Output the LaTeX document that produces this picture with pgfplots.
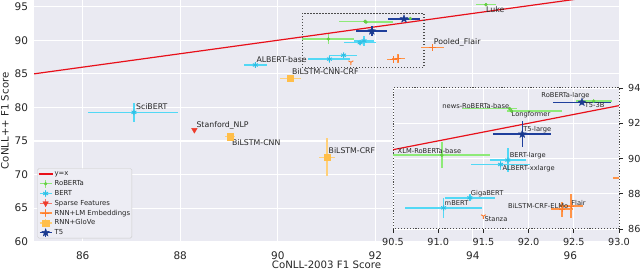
\documentclass[border=0pt]{standalone}
\usepackage{fontspec}
\setmainfont{DejaVu Sans}
\usepackage{pgfplots}
\pgfplotsset{compat=1.18}
\usepackage{pgfplotstable}
\usetikzlibrary{plotmarks}

\definecolor{bg}{HTML}{EAEAF2}
\definecolor{txt}{HTML}{262626}
\definecolor{cline}{HTML}{E8101A}
\definecolor{cRoM}{HTML}{66CC44}
\definecolor{cRoB}{HTML}{8EEA78}
\definecolor{cBeM}{HTML}{2EC0E6}
\definecolor{cBeB}{HTML}{52D8F5}
\definecolor{cSpM}{HTML}{EE3B2B}
\definecolor{cSpB}{HTML}{F47A6E}
\definecolor{cLmM}{HTML}{FF7A2A}
\definecolor{cLmB}{HTML}{FF9448}
\definecolor{cGlM}{HTML}{FFBE4A}
\definecolor{cGlB}{HTML}{FFD07A}
\definecolor{cTM}{HTML}{1A3A8F}
\definecolor{cTB}{HTML}{1F3F9C}

\pgfdeclareplotmark{fstar}{%
  \pgfpathmoveto{\pgfqpointpolar{90}{\pgfplotmarksize}}%
  \pgfpathlineto{\pgfqpointpolar{126}{0.42\pgfplotmarksize}}%
  \pgfpathlineto{\pgfqpointpolar{162}{\pgfplotmarksize}}%
  \pgfpathlineto{\pgfqpointpolar{198}{0.42\pgfplotmarksize}}%
  \pgfpathlineto{\pgfqpointpolar{234}{\pgfplotmarksize}}%
  \pgfpathlineto{\pgfqpointpolar{270}{0.42\pgfplotmarksize}}%
  \pgfpathlineto{\pgfqpointpolar{306}{\pgfplotmarksize}}%
  \pgfpathlineto{\pgfqpointpolar{342}{0.42\pgfplotmarksize}}%
  \pgfpathlineto{\pgfqpointpolar{18}{\pgfplotmarksize}}%
  \pgfpathlineto{\pgfqpointpolar{54}{0.42\pgfplotmarksize}}%
  \pgfpathclose
  \pgfusepathqfillstroke}

\tikzset{
  lblm/.style={font=\fontsize{7.8bp}{9bp}\selectfont, text=txt, inner sep=0pt, anchor=west},
  lbli/.style={font=\fontsize{6.7bp}{8bp}\selectfont, text=txt, inner sep=0pt, anchor=west},
}
\pgfplotsset{
  /pgf/number format/assume math mode=true,
  eb/.style={only marks,
    error bars/x dir=both, error bars/x explicit,
    error bars/y dir=both, error bars/y explicit,
    error bars/error mark=none,
    error bars/error bar style={draw=#1, line width=1.5bp, solid}},
  lgimg/.style={legend image code/.code={%
     \draw[line width=1.4bp, draw=#1] (0.04cm,0cm) -- (0.46cm,0cm) (0.25cm,-0.14cm) -- (0.25cm,0.14cm);
     \draw[##1] plot coordinates {(0.25cm,0cm)};}},
  lline/.style={legend image code/.code={\draw[##1] (0cm,0cm) -- (0.5cm,0cm);}},
  sRo/.style={eb=cRoB, mark=*, mark size=1.5bp, color=cRoM},
  sBe/.style={eb=cBeB, mark=asterisk, mark size=2.8bp, color=cBeM, mark options={line width=0.9bp}},
  sSp/.style={only marks, mark=triangle*, mark size=3.2bp, color=cSpM, mark options={rotate=180}},
  sLm/.style={eb=cLmB, mark=+, mark size=3.3bp, color=cLmM, mark options={line width=1.1bp}},
  sGl/.style={eb=cGlB, mark=square*, mark size=3.2bp, color=cGlM},
  sT5/.style={eb=cTB, mark=fstar, mark size=4bp, color=cTM},
  sSt/.style={only marks, mark=Mercedes star flipped, mark size=2.8bp, color=cLmM, mark options={line width=0.9bp}},
}

\pgfplotstableread{
x y exm exp ey
94.27 95.30 0.21 0.21 0.20
91.79 92.83 0.53 0.08 0.10
91.81 92.70 0.05 0.56 0.10
91.04 90.19 0.55 0.53 0.75
92.72 93.25 0.20 0.20 0.10
}\roberta
\pgfplotstableread{
x y exm exp ey
89.54 86.32 0.23 0.23 0.30
87.05 79.27 0.94 0.90 1.40
91.77 89.91 0.20 0.20 0.70
91.69 89.66 0.33 0.32 0.30
91.35 87.77 0.28 0.28 0.20
91.06 87.20 0.43 0.42 0.55
}\bert
\pgfplotstableread{
x y
88.29 76.64
}\sparse
\pgfplotstableread{
x y exm exp ey
93.17 88.90 0.24 0.24 0.50
92.47 87.30 0.13 0.13 0.69
92.37 87.13 0.12 0.12 0.43
}\rnnlm
\pgfplotstableread{
x y
91.50 86.73
}\stanza
\pgfplotstableread{
x y exm exp ey
90.26 84.34 0.22 0.22 0.30
89.02 75.64 0.10 0.10 0.20
91.01 72.57 0.17 0.17 2.85
}\glove
\pgfplotstableread{
x y exm exp ey
92.59 93.19 0.32 0.32 0.10
91.93 91.38 0.32 0.32 0.72
}\tfive

\begin{document}
\begin{tikzpicture}
\begin{axis}[
  at={(34bp,29.3bp)}, anchor=south west, scale only axis,
  width=585bp, height=241.7bp,
  xmin=85, xmax=97, ymin=60, ymax=96,
  xtick={86,88,...,96}, ytick={60,65,...,95},
  axis background/.style={fill=bg}, axis line style={draw=none},
  grid=major, major grid style={white, line width=1.1bp},
  major tick length=0pt,
  tick label style={font=\fontsize{10.5bp}{12bp}\selectfont, text=txt},
  xticklabel style={inner sep=0pt, anchor=north, yshift=-10bp},
  yticklabel style={inner sep=0pt, anchor=east, xshift=-5.7bp},
  xlabel={CoNLL-2003 F1 Score}, ylabel={CoNLL++ F1 Score},
  label style={font=\fontsize{10.2bp}{12bp}\selectfont, text=txt, inner sep=0pt},
  xlabel style={at={(axis description cs:0.5,-0.0964)}, anchor=center},
  ylabel style={at={(axis description cs:-0.0496,0.5)}, anchor=center},
  legend style={at={(axis description cs:0.0056,0.014)}, anchor=south west,
    font=\fontsize{6.9bp}{8bp}\selectfont, fill=bg!85!white, draw=gray!40,
    rounded corners=1.5bp, inner sep=0.5bp, row sep=0pt, text=txt,
    nodes={inner sep=1.2bp, text height=5.6bp, text depth=1.8bp}},
  legend cell align=left,
]
\addplot[cline, line width=1.2bp, forget plot] coordinates {(85,85) (97,97)};
\addplot[line width=1.2bp, gray!60!black, forget plot, dash pattern=on 1.2bp off 1.8bp]
  coordinates {(90.5,86) (93,86) (93,94) (90.5,94) (90.5,86)};
\addplot[sGl, forget plot] table[x=x,y=y,x error plus=exp,x error minus=exm,y error=ey]{\glove};
\addplot[sLm, forget plot] table[x=x,y=y,x error plus=exp,x error minus=exm,y error=ey]{\rnnlm};
\addplot[sSt, forget plot] table[x=x,y=y]{\stanza};
\addplot[sSp, forget plot] table[x=x,y=y]{\sparse};
\addplot[sBe, forget plot] table[x=x,y=y,x error plus=exp,x error minus=exm,y error=ey]{\bert};
\addplot[sRo, forget plot] table[x=x,y=y,x error plus=exp,x error minus=exm,y error=ey]{\roberta};
\addplot[sT5, forget plot] table[x=x,y=y,x error plus=exp,x error minus=exm,y error=ey]{\tfive};

\addlegendimage{cline, line width=1.2bp, lline}
\addlegendentry{y=x}
\addlegendimage{only marks, mark=*, mark size=1.5bp, color=cRoM, lgimg=cRoB}
\addlegendentry{RoBERTa}
\addlegendimage{only marks, mark=asterisk, mark size=2.8bp, color=cBeM, mark options={line width=0.9bp}, lgimg=cBeB}
\addlegendentry{BERT}
\addlegendimage{only marks, mark=triangle*, mark size=3.2bp, color=cSpM, mark options={rotate=180}, lgimg=cSpB}
\addlegendentry{Sparse Features}
\addlegendimage{only marks, mark=+, mark size=3.3bp, color=cLmM, mark options={line width=1.1bp}, lgimg=cLmB}
\addlegendentry{RNN+LM Embeddings}
\addlegendimage{only marks, mark=square*, mark size=3.2bp, color=cGlM, lgimg=cGlB}
\addlegendentry{RNN+GloVe}
\addlegendimage{only marks, mark=fstar, mark size=4bp, color=cTM, lgimg=cTB}
\addlegendentry{T5}

\node[lblm] at (axis cs:94.27,94.61) {Luke};
\node[lblm] at (axis cs:93.20,89.70) {Pooled\_Flair};
\node[lblm] at (axis cs:89.56,87.06) {ALBERT-base};
\node[lblm] at (axis cs:90.29,85.32) {BiLSTM-CNN-CRF};
\node[lblm] at (axis cs:87.09,80.11) {SciBERT};
\node[lblm] at (axis cs:88.33,77.38) {Stanford\_NLP};
\node[lblm] at (axis cs:89.06,74.75) {BiLSTM-CNN};
\node[lblm] at (axis cs:91.04,73.51) {BiLSTM-CRF};
\end{axis}

\begin{axis}[
  at={(393bp,42bp)}, anchor=south west, scale only axis,
  width=226bp, height=141bp,
  xmin=90.5, xmax=93, ymin=86, ymax=94,
  xtick={90.5,91,...,93}, ytick={86,88,...,94},
  axis background/.style={fill=bg},
  axis line style={draw=gray!60!black, line width=1bp, dash pattern=on 1.1bp off 1.8bp},
  grid=major, major grid style={white, line width=0.8bp, solid},
  tick align=outside, xtick pos=bottom, ytick pos=right, yticklabel pos=right,
  major tick length=4bp, tick style={txt, line width=0.8bp, solid},
  tick label style={font=\fontsize{9.7bp}{11bp}\selectfont, text=txt},
  xticklabel style={inner sep=0pt, anchor=north, yshift=-5bp,
    /pgf/number format/.cd, fixed, fixed zerofill, precision=1},
  yticklabel style={inner sep=0pt, anchor=west, xshift=5bp},
]
\addplot[cline, line width=1.2bp, forget plot] coordinates {(90.5,90.5) (93,93)};
\addplot[sGl, forget plot] table[x=x,y=y,x error plus=exp,x error minus=exm,y error=ey]{\glove};
\addplot[sLm, forget plot] table[x=x,y=y,x error plus=exp,x error minus=exm,y error=ey]{\rnnlm};
\addplot[sSt, forget plot] table[x=x,y=y]{\stanza};
\addplot[sSp, forget plot] table[x=x,y=y]{\sparse};
\addplot[sBe, forget plot] table[x=x,y=y,x error plus=exp,x error minus=exm,y error=ey]{\bert};
\addplot[sRo, forget plot] table[x=x,y=y,x error plus=exp,x error minus=exm,y error=ey]{\roberta};
\addplot[sT5, forget plot] table[x=x,y=y,x error plus=exp,x error minus=exm,y error=ey]{\tfive};

\node[lbli, anchor=east] at (axis cs:91.787,92.99) {news-RoBERTa-base};
\node[lbli] at (axis cs:91.81,92.47) {Longformer};
\node[lbli] at (axis cs:92.14,93.55) {RoBERTa-large};
\node[lbli] at (axis cs:92.62,93.03) {T5-3B};
\node[lbli] at (axis cs:91.94,91.61) {T5-large};
\node[lbli] at (axis cs:90.55,90.44) {XLM-RoBERTa-base};
\node[lbli] at (axis cs:91.79,90.14) {BERT-large};
\node[lbli] at (axis cs:91.71,89.41) {ALBERT-xxlarge};
\node[lbli] at (axis cs:91.36,88.02) {GigaBERT};
\node[lbli] at (axis cs:91.07,87.45) {mBERT};
\node[lbli] at (axis cs:91.51,86.54) {Stanza};
\node[lbli, anchor=east] at (axis cs:92.44,87.30) {BiLSTM-CRF-ELMo};
\node[lbli] at (axis cs:92.47,87.50) {Flair};
\end{axis}
\pgfresetboundingbox
\path[use as bounding box] (0,0) rectangle (640bp,271bp);
\end{tikzpicture}
\end{document}
